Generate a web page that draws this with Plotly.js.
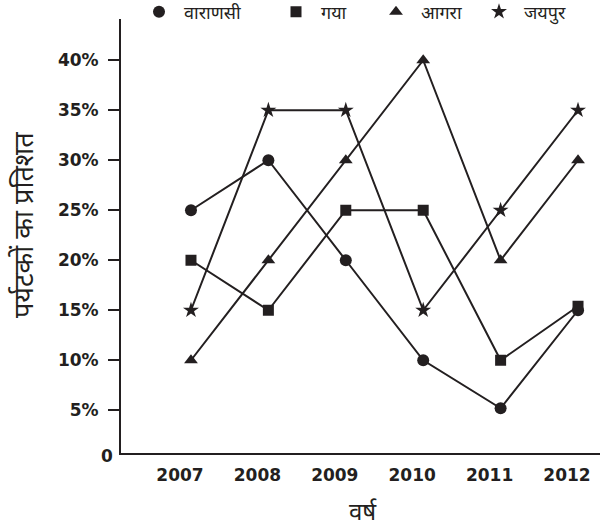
<!DOCTYPE html>
<html>
<head>
<meta charset="utf-8">
<script src="https://cdn.plot.ly/plotly-3.0.1.min.js"></script>
<style>html,body{margin:0;padding:0;background:#fff;}#chart{width:602px;height:529px;}</style>
</head>
<body>
<div id="chart"></div>
<script>
const years = ['2007', '2008', '2009', '2010', '2011', '2012'];
const varanasi = [25, 30, 20, 10, 5.2, 15];
const gaya = [20, 15, 25, 25, 10, 15.4];
const agra = [10, 20, 30, 40, 20, 30];
const jaipur = [15, 35, 35, 15, 25, 35];
const seriesNames = ['वाराणसी', 'गया', 'आगरा', 'जयपुर'];
const yTickVals = [5, 10, 15, 20, 25, 30, 35, 40];
const yTickText = ['5%', '10%', '15%', '20%', '25%', '30%', '35%', '40%'];
const yTitle = 'पर्यटकों का प्रतिशत';
const xTitle = 'वर्ष';

const ink = '#231f20';
const symbols = ['circle', 'square', 'triangle-up', 'star'];
const sizes = [12, 11, 12, 12];
const allVals = [varanasi, gaya, agra, jaipur];
const legendIds = ['legend', 'legend2', 'legend3', 'legend4'];

const traces = [];
allVals.forEach((vals, i) => {
  traces.push({
    x: years, y: vals, type: 'scatter', mode: 'lines+markers',
    line: {color: ink, width: 2},
    marker: {symbol: symbols[i], size: sizes[i], color: ink},
    showlegend: false, hoverinfo: 'skip'
  });
});
allVals.forEach((vals, i) => {
  traces.push({
    x: [null], y: [null], type: 'scatter', mode: 'markers', name: seriesNames[i],
    marker: {symbol: symbols[i], size: sizes[i], color: ink},
    showlegend: true, legend: legendIds[i]
  });
});

const W = 602, H = 529, L = 121, R = 2, T = 19, B = 76;
const pw = W - L - R, ph = H - T - B;
function px2paperX(px) { return (px - L) / pw; }
function px2paperY(py) { return (H - B - py) / ph; }
const legendSymbolX = [160, 297, 397, 500];
const legendFont = {family: 'Noto Sans, DejaVu Sans, sans-serif', size: 18, color: ink};

const layout = {
  width: W, height: H,
  margin: {l: L, r: R, t: T, b: B, autoexpand: false},
  paper_bgcolor: '#fff', plot_bgcolor: '#fff',
  showlegend: true,
  xaxis: {
    type: 'category', range: [-0.904, 5.284], automargin: false,
    showline: true, linecolor: ink, linewidth: 2,
    showgrid: false, zeroline: false, ticks: '',
    ticklabelshift: -11, ticklabelstandoff: 6,
    tickfont: {family: 'DejaVu Sans', size: 17, color: ink, weight: 'bold'}
  },
  yaxis: {
    range: [0.725, 44.125], automargin: false,
    showline: true, linecolor: ink, linewidth: 2,
    showgrid: false, zeroline: false,
    ticks: 'outside', ticklen: 11, tickwidth: 2, tickcolor: ink,
    tickvals: yTickVals, ticktext: yTickText, ticklabelstandoff: 6,
    tickfont: {family: 'DejaVu Sans', size: 17, color: ink, weight: 'bold'}
  },
  annotations: [
    {text: '0', xref: 'paper', yref: 'paper', x: 0, y: 0, xanchor: 'right', yanchor: 'middle',
     xshift: -6, yshift: -3, showarrow: false,
     font: {family: 'DejaVu Sans', size: 17, color: ink, weight: 'bold'}},
    {text: yTitle, xref: 'paper', yref: 'paper', x: px2paperX(22), y: px2paperY(225), textangle: -90,
     xanchor: 'center', yanchor: 'middle', showarrow: false,
     font: {family: 'Noto Sans, DejaVu Sans, sans-serif', size: 27, color: ink}},
    {text: xTitle, xref: 'paper', yref: 'paper', x: px2paperX(363), y: px2paperY(510),
     xanchor: 'center', yanchor: 'middle', showarrow: false,
     font: {family: 'Noto Sans, DejaVu Sans, sans-serif', size: 24, color: ink}}
  ]
};
legendIds.forEach((id, i) => {
  layout[id] = {
    xref: 'container', yref: 'container',
    x: (legendSymbolX[i] - 26) / W, y: 1 - 12 / H, xanchor: 'left', yanchor: 'middle',
    orientation: 'h', itemwidth: 40, bgcolor: 'rgba(0,0,0,0)', borderwidth: 0, font: legendFont
  };
});

Plotly.newPlot('chart', traces, layout, {staticPlot: true, displayModeBar: false});
</script>
</body>
</html>
